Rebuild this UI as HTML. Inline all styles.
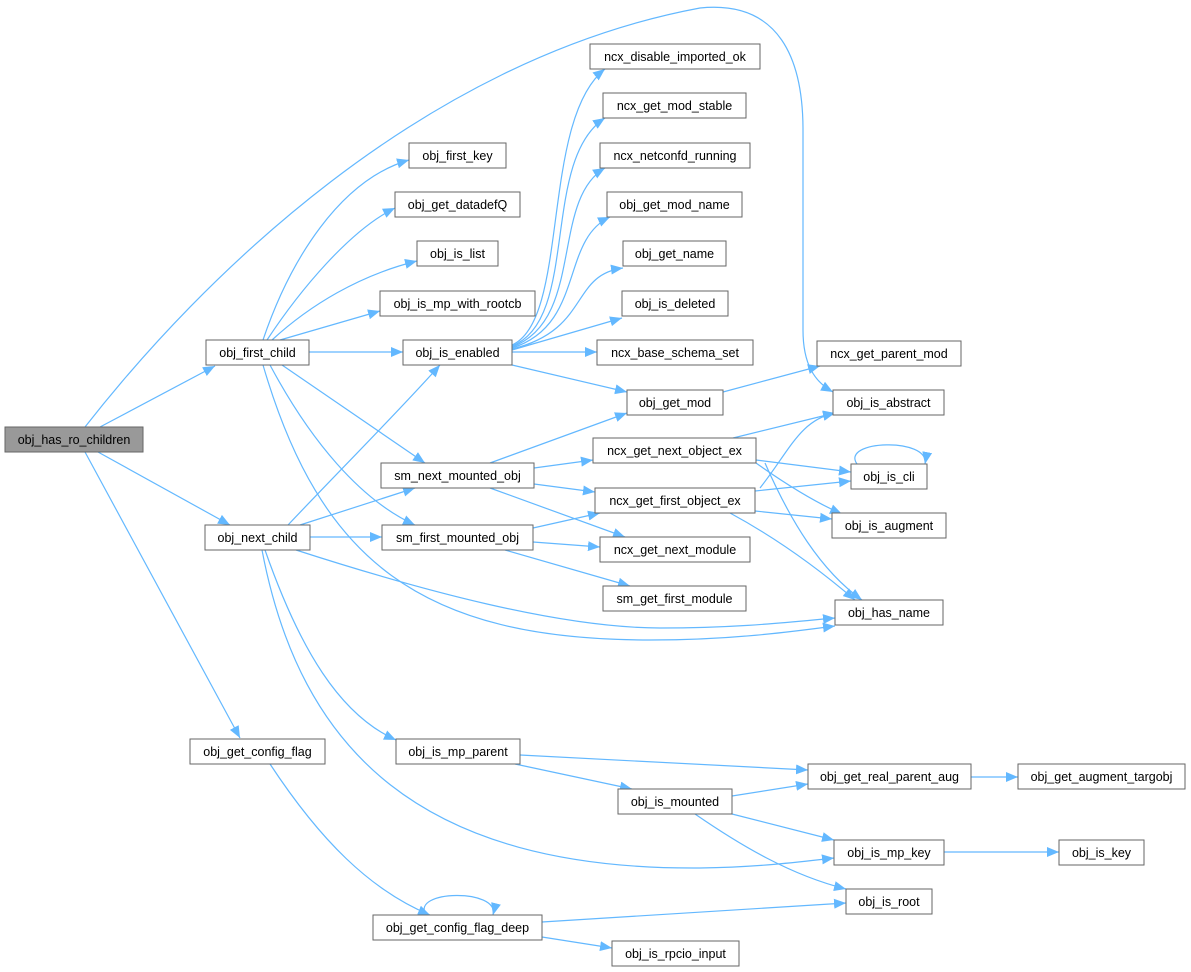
<!DOCTYPE html>
<html><head><meta charset="utf-8"><style>
html,body{margin:0;padding:0;background:#fff;}
svg{display:block;}
text{font-family:"Liberation Sans",Arial,sans-serif;font-size:12.5px;fill:#000;text-anchor:middle;}
.n{fill:#fff;stroke:#666;stroke-width:1;}
.e{fill:none;stroke:#63b8ff;stroke-width:1.2;marker-end:url(#a);}
</style></head><body>
<svg width="1191" height="972" viewBox="0 0 1191 972" xmlns="http://www.w3.org/2000/svg">
<defs><marker id="a" viewBox="0 0 12 12" refX="12" refY="6" markerWidth="12" markerHeight="12" markerUnits="userSpaceOnUse" orient="auto"><path d="M0,1 L12,6 L0,11 Z" fill="#63b8ff"/></marker></defs>

<path class="e" d="M85,427 C200,280 420,60 700,8 C780,0 803,60 803,130 L803,330 C803,365 815,382 833,392"/>
<path class="e" d="M100,427 L215,366"/>
<path class="e" d="M98,452 L230,525"/>
<path class="e" d="M85,452 L240,738"/>

<path class="e" d="M263,340 C290,260 340,180 409,160"/>
<path class="e" d="M267,340 C300,290 350,230 395,208"/>
<path class="e" d="M272,340 C310,305 360,275 417,261"/>
<path class="e" d="M280,340 L380,311"/>
<path class="e" d="M309,352 L403,352"/>
<path class="e" d="M282,365 L425,463"/>
<path class="e" d="M270,365 C310,440 360,500 415,525"/>
<path class="e" d="M263,365 C320,560 420,640 650,640 C730,640 790,632 835,626"/>

<path class="e" d="M288,525 C340,470 400,410 440,365"/>
<path class="e" d="M300,525 L415,488"/>
<path class="e" d="M310,537 L382,537"/>
<path class="e" d="M296,550 C420,590 560,628 660,628 C740,628 790,622 835,618"/>
<path class="e" d="M265,550 C300,650 340,715 396,740"/>
<path class="e" d="M262,550 C300,750 420,870 700,868 C760,867 800,862 834,858"/>

<path class="e" d="M512,345 C570,320 540,120 605,69"/>
<path class="e" d="M512,346 C580,320 540,160 605,118"/>
<path class="e" d="M512,347 C585,320 550,200 605,168"/>
<path class="e" d="M512,348 C585,325 560,240 610,217"/>
<path class="e" d="M512,349 C590,330 570,275 623,268"/>
<path class="e" d="M512,350 L622,318"/>
<path class="e" d="M512,352 L597,352"/>
<path class="e" d="M512,365 L627,392"/>

<path class="e" d="M723,392 L820,366"/>

<path class="e" d="M490,463 L627,413"/>
<path class="e" d="M534,468 L593,460"/>
<path class="e" d="M534,484 L595,492"/>
<path class="e" d="M490,488 L625,537"/>
<path class="e" d="M533,528 L600,513"/>
<path class="e" d="M533,542 L600,547"/>
<path class="e" d="M505,550 L630,586"/>

<path class="e" d="M733,438 L835,413"/>
<path class="e" d="M756,460 L851,472"/>
<path class="e" d="M756,463 C780,480 810,500 842,514"/>
<path class="e" d="M765,463 C790,520 820,570 862,600"/>
<path class="e" d="M760,488 C790,450 800,420 835,413"/>
<path class="e" d="M755,491 L851,481"/>
<path class="e" d="M755,511 L832,519"/>
<path class="e" d="M730,513 C780,540 820,570 855,600"/>
<path class="e" d="M857,464 C840,440 930,437 925,464"/>

<path class="e" d="M520,755 L808,770"/>
<path class="e" d="M515,764 L632,789"/>
<path class="e" d="M732,796 L808,784"/>
<path class="e" d="M732,814 L834,840"/>
<path class="e" d="M695,814 C740,845 790,875 846,889"/>
<path class="e" d="M971,777 L1018,777"/>
<path class="e" d="M944,852 L1059,852"/>

<path class="e" d="M270,764 C320,840 370,890 430,915"/>
<path class="e" d="M426,915 C410,890 500,888 493,915"/>
<path class="e" d="M542,922 L846,903"/>
<path class="e" d="M542,937 L612,948"/>

<rect x="5" y="427" width="138" height="25" fill="#999" stroke="#666"/><text x="74" y="444">obj_has_ro_children</text>
<rect class="n" x="206" y="340" width="103" height="25"/><text x="257.5" y="357">obj_first_child</text>
<rect class="n" x="205" y="525" width="105" height="25"/><text x="257.5" y="542">obj_next_child</text>
<rect class="n" x="190" y="739" width="135" height="25"/><text x="257.5" y="756">obj_get_config_flag</text>

<rect class="n" x="409" y="143" width="97" height="25"/><text x="457.5" y="160">obj_first_key</text>
<rect class="n" x="395" y="192" width="125" height="25"/><text x="457.5" y="209">obj_get_datadefQ</text>
<rect class="n" x="417" y="241" width="81" height="25"/><text x="457.5" y="258">obj_is_list</text>
<rect class="n" x="380" y="291" width="155" height="25"/><text x="457.5" y="308">obj_is_mp_with_rootcb</text>
<rect class="n" x="403" y="340" width="109" height="25"/><text x="457.5" y="357">obj_is_enabled</text>
<rect class="n" x="381" y="463" width="153" height="25"/><text x="457.5" y="480">sm_next_mounted_obj</text>
<rect class="n" x="382" y="525" width="151" height="25"/><text x="457.5" y="542">sm_first_mounted_obj</text>
<rect class="n" x="396" y="739" width="124" height="25"/><text x="458" y="756">obj_is_mp_parent</text>
<rect class="n" x="373" y="915" width="169" height="25"/><text x="457.5" y="932">obj_get_config_flag_deep</text>

<rect class="n" x="590" y="44" width="170" height="25"/><text x="675" y="61">ncx_disable_imported_ok</text>
<rect class="n" x="603" y="93" width="143" height="25"/><text x="674.5" y="110">ncx_get_mod_stable</text>
<rect class="n" x="600" y="143" width="150" height="25"/><text x="675" y="160">ncx_netconfd_running</text>
<rect class="n" x="607" y="192" width="135" height="25"/><text x="674.5" y="209">obj_get_mod_name</text>
<rect class="n" x="623" y="241" width="103" height="25"/><text x="674.5" y="258">obj_get_name</text>
<rect class="n" x="622" y="291" width="106" height="25"/><text x="675" y="308">obj_is_deleted</text>
<rect class="n" x="597" y="340" width="156" height="25"/><text x="675" y="357">ncx_base_schema_set</text>
<rect class="n" x="627" y="390" width="96" height="25"/><text x="675" y="407">obj_get_mod</text>
<rect class="n" x="593" y="438" width="163" height="25"/><text x="674.5" y="455">ncx_get_next_object_ex</text>
<rect class="n" x="595" y="488" width="160" height="25"/><text x="675" y="505">ncx_get_first_object_ex</text>
<rect class="n" x="600" y="537" width="150" height="25"/><text x="675" y="554">ncx_get_next_module</text>
<rect class="n" x="603" y="586" width="143" height="25"/><text x="674.5" y="603">sm_get_first_module</text>
<rect class="n" x="618" y="789" width="114" height="25"/><text x="675" y="806">obj_is_mounted</text>
<rect class="n" x="612" y="941" width="127" height="25"/><text x="675.5" y="958">obj_is_rpcio_input</text>

<rect class="n" x="817" y="341" width="144" height="25"/><text x="889" y="358">ncx_get_parent_mod</text>
<rect class="n" x="833" y="390" width="111" height="25"/><text x="888.5" y="407">obj_is_abstract</text>
<rect class="n" x="851" y="464" width="76" height="25"/><text x="889" y="481">obj_is_cli</text>
<rect class="n" x="832" y="513" width="114" height="25"/><text x="889" y="530">obj_is_augment</text>
<rect class="n" x="835" y="600" width="108" height="25"/><text x="889" y="617">obj_has_name</text>
<rect class="n" x="808" y="764" width="163" height="25"/><text x="889.5" y="781">obj_get_real_parent_aug</text>
<rect class="n" x="834" y="840" width="110" height="25"/><text x="889" y="857">obj_is_mp_key</text>
<rect class="n" x="846" y="889" width="86" height="25"/><text x="889" y="906">obj_is_root</text>
<rect class="n" x="1018" y="764" width="167" height="25"/><text x="1101.5" y="781">obj_get_augment_targobj</text>
<rect class="n" x="1059" y="840" width="85" height="25"/><text x="1101.5" y="857">obj_is_key</text>
</svg>
</body></html>
